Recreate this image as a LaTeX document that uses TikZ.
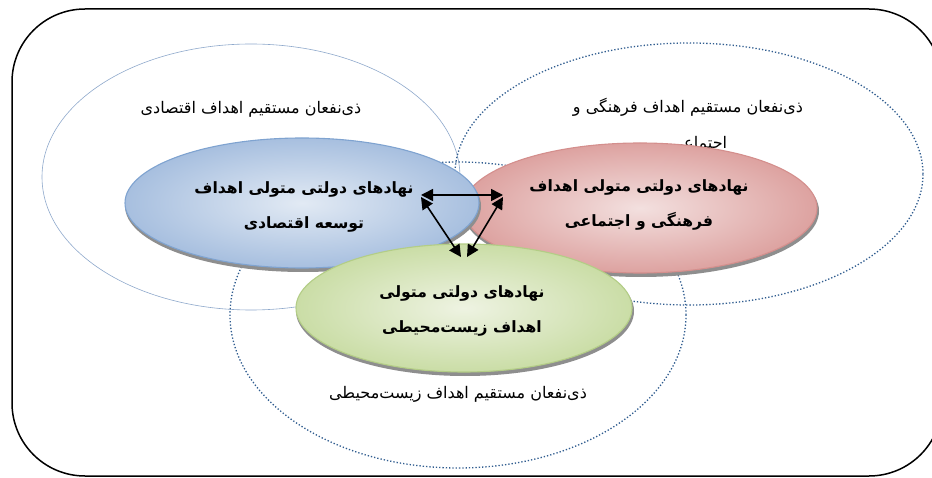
\documentclass[tikz,border=0pt]{standalone}
\usepackage{fontspec}
\usetikzlibrary{shapes.geometric,arrows.meta}
\TeXXeTstate=1
\newfontfamily\fa[Script=Arabic]{DejaVu Sans}
\definecolor{econline}{HTML}{8FA9CC}
\definecolor{dotline}{HTML}{2F5C8F}
\definecolor{blueIn}{HTML}{E2EAF4}
\definecolor{blueOut}{HTML}{A7BFDF}
\definecolor{blueBorder}{HTML}{7FA3D0}
\definecolor{redIn}{HTML}{F3E0DF}
\definecolor{redOut}{HTML}{DDA2A0}
\definecolor{redBorder}{HTML}{D48F8D}
\definecolor{greenIn}{HTML}{EEF3E2}
\definecolor{greenOut}{HTML}{CADDA6}
\definecolor{greenBorder}{HTML}{B3CD86}
\definecolor{shadowgray}{HTML}{8E8E8E}
\tikzset{
  zone/.style={ellipse, inner sep=0pt, draw=dotline, dotted, line width=1.3pt},
  lbl/.style={font=\fa\fontsize{16}{20}\selectfont, inner sep=0pt},
  orgshape/.style={ellipse, inner sep=0pt, shading=radial, line width=1.1pt},
  orgshadow/.style={ellipse, inner sep=0pt, fill=shadowgray},
  orgtxt/.style={font=\fa\bfseries\fontsize{15.6}{35}\selectfont, align=center, inner sep=0pt},
  link/.style={line width=1.6pt, {Triangle[length=12pt,width=12pt]}-{Triangle[length=12pt,width=12pt]}}
}
\begin{document}
\begin{tikzpicture}[x=1pt,y=-1pt]
\clip (0,0) rectangle (932,478);
\useasboundingbox (0,0) rectangle (932,478);
\fill[white] (0,0) rectangle (932,478);
% outer frame
\draw[line width=1.5pt, rounded corners=73pt] (12,9) rectangle (942,476);
% stakeholder zones
\node[ellipse, inner sep=0pt, draw=econline, line width=0.6pt, minimum width=418pt, minimum height=266pt] (econ) at (251,177) {};
\node[zone, minimum width=468pt, minimum height=262pt] (cult) at (689,174) {};
\node[zone, minimum width=456pt, minimum height=306pt] (env) at (458,315) {};
% zone labels
\node[lbl] (econlbl) at (251,109) {\beginR ذی‌نفعان مستقیم اهداف اقتصادی\endR};
\node[lbl] (cultlbl1) at (688,107) {\beginR ذی‌نفعان مستقیم اهداف فرهنگی و\endR};
\node[lbl] (cultlbl2) at (699,144) {\beginR اجتماعی\endR};
\node[lbl] (envlbl) at (458,394) {\beginR ذی‌نفعان مستقیم اهداف زیست‌محیطی\endR};
% red
\node[orgshadow, minimum width=356pt, minimum height=132pt] (redsh) at (641,211) {};
\node[orgshape, minimum width=354pt, minimum height=130pt, inner color=redIn, outer color=redOut, draw=redBorder] (red) at (640,208) {};
% blue
\node[orgshadow, minimum width=356pt, minimum height=132pt] (bluesh) at (303,206) {};
\node[orgshape, minimum width=354pt, minimum height=130pt, inner color=blueIn, outer color=blueOut, draw=blueBorder] (blue) at (302,203) {};
% green
\node[orgshadow, minimum width=338pt, minimum height=130pt] (greensh) at (465,311) {};
\node[orgshape, minimum width=336pt, minimum height=128pt, inner color=greenIn, outer color=greenOut, draw=greenBorder] (green) at (464,308) {};
% texts
\node[orgtxt] (bluetxt) at (304,207) {\beginR نهادهای دولتی متولی اهداف\endR\\\beginR توسعه اقتصادی\endR};
\node[orgtxt] (redtxt) at (639,205) {\beginR نهادهای دولتی متولی اهداف\endR\\\beginR فرهنگی و اجتماعی\endR};
\node[orgtxt] (greentxt) at (462,311) {\beginR نهادهای دولتی متولی\endR\\\beginR اهداف زیست‌محیطی\endR};
% arrows
\coordinate (aL) at (421,195);
\coordinate (aR) at (503,195);
\coordinate (dL) at (421,197);
\coordinate (dR) at (503,197);
\coordinate (bL) at (461,257);
\coordinate (bR) at (467,257);
\draw[link] (aL) -- (aR);
\draw[link] (dL) -- (bL);
\draw[link] (dR) -- (bR);
\end{tikzpicture}
\end{document}
